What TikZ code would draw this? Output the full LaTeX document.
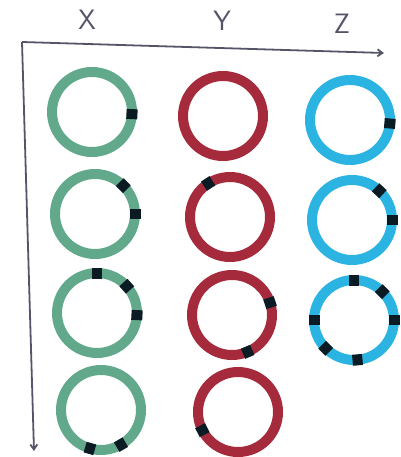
\documentclass[tikz,border=0pt]{standalone}
\usetikzlibrary{arrows.meta}
\definecolor{ringgreen}{HTML}{62A98B}
\definecolor{ringred}{HTML}{A52A3C}
\definecolor{ringblue}{HTML}{2BB3E1}
\definecolor{notchdark}{HTML}{0B1B24}
\definecolor{axisgray}{HTML}{55556A}
\tikzset{
  ring/.style={circle,draw=#1,line width=10pt,minimum size=80pt,inner sep=0pt},
  notch/.style={rectangle,fill=notchdark,minimum width=11pt,minimum height=10pt,inner sep=0pt,outer sep=0pt},
  axislabel/.style={text=axisgray,font=\sffamily\fontsize{28}{30}\selectfont}
}
\begin{document}
\begin{tikzpicture}[x=1pt,y=1pt]
\useasboundingbox (0,0) rectangle (400,-457);
\coordinate (o) at (22,-42);
\coordinate (xend) at (384,-53);
\coordinate (yend) at (34,-451);
\draw[axisgray,line width=1.8pt,-{Straight Barb[length=5pt,width=7pt]}] (o)--(xend);
\draw[axisgray,line width=1.8pt,-{Straight Barb[length=5pt,width=7pt]}] (o)--(yend);
\node[axislabel] (lx) at (87,-20) {X};
\node[axislabel] (ly) at (222,-21) {Y};
\node[axislabel] (lz) at (342,-24) {Z};
\node[ring=ringgreen] (x1) at (92,-112) {};
\node[ring=ringgreen] (x2) at (95,-214) {};
\node[ring=ringgreen] (x3) at (97,-313) {};
\node[ring=ringgreen] (x4) at (101,-410) {};
\node[ring=ringred] (y1) at (223,-116) {};
\node[ring=ringred] (y2) at (230,-217) {};
\node[ring=ringred] (y3) at (232,-315) {};
\node[ring=ringred] (y4) at (238,-412) {};
\node[ring=ringblue] (z1) at (350,-120) {};
\node[ring=ringblue] (z2) at (352,-220) {};
\node[ring=ringblue] (z3) at (354,-320) {};
\foreach \r/\a in {x1/-3,z1/-5,x2/45,x2/0,y2/123,z2/47,z2/0,
                   x3/90,x3/42,x3/-3,y3/18,y3/-67,
                   z3/90,z3/45,z3/0,z3/180,z3/-135,z3/-85,
                   x4/-106,x4/-60,y4/-153}
  \node[notch,rotate=\a] at ([shift={(\a:40pt)}]\r.center) {};
\end{tikzpicture}
\end{document}
